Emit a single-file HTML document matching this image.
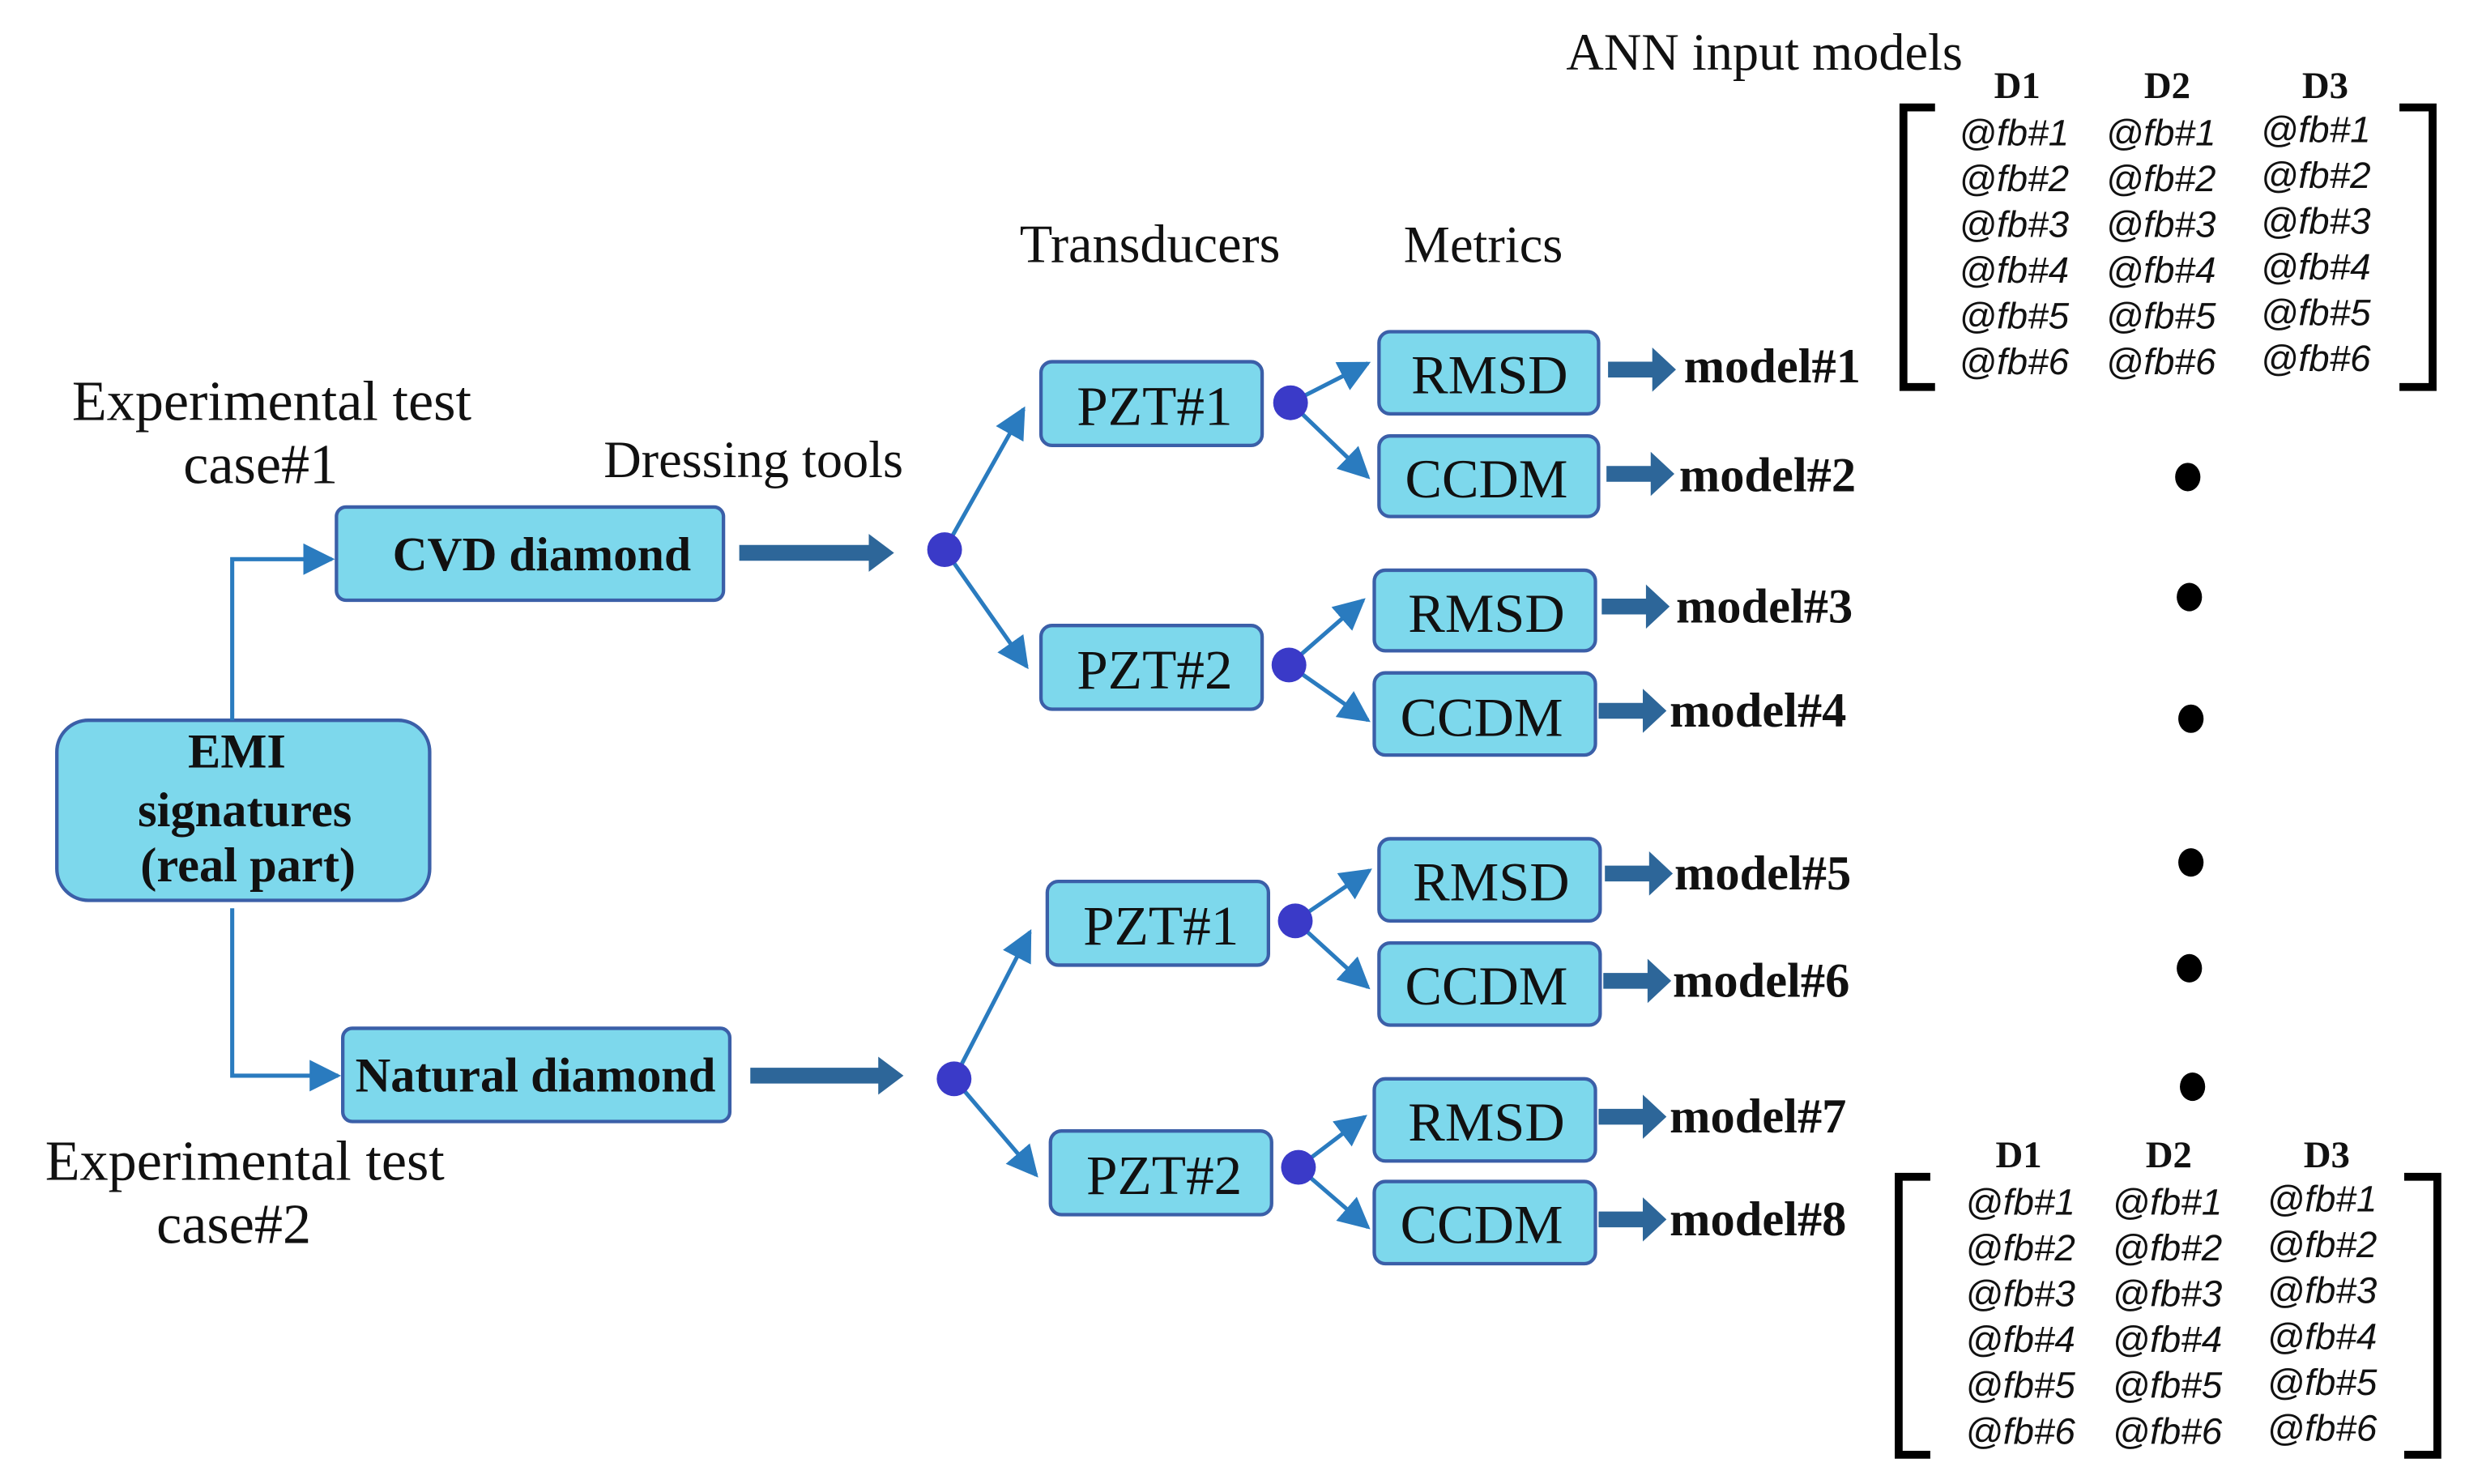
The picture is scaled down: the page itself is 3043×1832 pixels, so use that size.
<!DOCTYPE html>
<html><head><meta charset="utf-8"><style>
html,body{margin:0;padding:0;background:#fff;}
svg{display:block;}
.s{font-family:"Liberation Serif",serif;fill:#111;}
.b{font-family:"Liberation Serif",serif;font-weight:bold;fill:#111;}
.i{font-family:"Liberation Sans",sans-serif;font-style:italic;fill:#111;font-size:23.5px;}
.box{fill:#7dd8ec;stroke:#3b5fa8;stroke-width:2.2;}
.ln{stroke:#2a7bbf;stroke-width:2.6;fill:none;}
.dot{fill:#3a3ac8;}
.th{fill:#2d6699;}
</style></head><body>
<svg width="3043" height="1832" viewBox="0 0 1560.5 939.5" preserveAspectRatio="none" xmlns="http://www.w3.org/2000/svg">
<defs>
<marker id="m" viewBox="0 0 10 10" refX="9" refY="5" markerWidth="20" markerHeight="20" orient="auto" markerUnits="userSpaceOnUse"><path d="M0,0 L10,5 L0,10 z" fill="#2a7bbf"/></marker>
</defs>

<text class="s" x="1117" y="44" font-size="33" text-anchor="middle">ANN input models</text>
<text class="s" x="728" y="166" font-size="34" text-anchor="middle">Transducers</text>
<text class="s" x="939" y="166" font-size="33" text-anchor="middle">Metrics</text>
<text class="s" x="172" y="266" font-size="36" text-anchor="middle">Experimental test</text>
<text class="s" x="165" y="306" font-size="36" text-anchor="middle">case#1</text>
<text class="s" x="477" y="302" font-size="33" text-anchor="middle">Dressing tools</text>
<text class="s" x="155" y="747" font-size="36" text-anchor="middle">Experimental test</text>
<text class="s" x="148" y="787" font-size="36" text-anchor="middle">case#2</text>

<rect class="box" x="36" y="456" width="236" height="114" rx="20"/>
<text class="b" x="150" y="486" font-size="31" text-anchor="middle">EMI</text>
<text class="b" x="155" y="523" font-size="31" text-anchor="middle">signatures</text>
<text class="b" x="157" y="558" font-size="31" text-anchor="middle">(real part)</text>
<path class="ln" d="M147,456 V354 H210" marker-end="url(#m)"/>
<path class="ln" d="M147,575 V681 H214" marker-end="url(#m)"/>

<rect class="box" x="213" y="321" width="245" height="59" rx="6"/>
<text class="b" x="343" y="361" font-size="30.5" text-anchor="middle">CVD diamond</text>
<rect class="box" x="217" y="651" width="245" height="59" rx="6"/>
<text class="b" x="339" y="691" font-size="31" text-anchor="middle">Natural diamond</text>

<path class="th" d="M468,345 H550 V338 L566,350 L550,362 V355 H468 z"/>
<path class="th" d="M475,676 H556 V669 L572,681 L556,693 V686 H475 z"/>

<path class="ln" d="M598,348 L648,259" marker-end="url(#m)"/>
<path class="ln" d="M598,348 L650,422" marker-end="url(#m)"/>
<path class="ln" d="M604,683 L652,590" marker-end="url(#m)"/>
<path class="ln" d="M604,683 L656,744" marker-end="url(#m)"/>
<circle class="dot" cx="598" cy="348" r="11"/>
<circle class="dot" cx="604" cy="683" r="11"/>

<rect class="box" x="659" y="229" width="140" height="53" rx="7"/>
<text class="s" x="731" y="269" font-size="35.5" text-anchor="middle">PZT#1</text>
<rect class="box" x="659" y="396" width="140" height="53" rx="7"/>
<text class="s" x="731" y="436" font-size="35.5" text-anchor="middle">PZT#2</text>
<rect class="box" x="663" y="558" width="140" height="53" rx="7"/>
<text class="s" x="735" y="598" font-size="35.5" text-anchor="middle">PZT#1</text>
<rect class="box" x="665" y="716" width="140" height="53" rx="7"/>
<text class="s" x="737" y="756" font-size="35.5" text-anchor="middle">PZT#2</text>

<path class="ln" d="M817,255 L866,230" marker-end="url(#m)"/>
<path class="ln" d="M817,255 L866,302" marker-end="url(#m)"/>
<path class="ln" d="M816,421 L863,380" marker-end="url(#m)"/>
<path class="ln" d="M816,421 L866,456" marker-end="url(#m)"/>
<path class="ln" d="M820,583 L867,551" marker-end="url(#m)"/>
<path class="ln" d="M820,583 L866,625" marker-end="url(#m)"/>
<path class="ln" d="M822,739 L864,707" marker-end="url(#m)"/>
<path class="ln" d="M822,739 L866,777" marker-end="url(#m)"/>
<circle class="dot" cx="817" cy="255" r="11"/>
<circle class="dot" cx="816" cy="421" r="11"/>
<circle class="dot" cx="820" cy="583" r="11"/>
<circle class="dot" cx="822" cy="739" r="11"/>

<rect class="box" x="873" y="210" width="139" height="52" rx="7"/><text class="s" x="943" y="249" text-anchor="middle" font-size="35">RMSD</text>
<rect class="box" x="873" y="276" width="139" height="51" rx="7"/><text class="s" x="941" y="315" text-anchor="middle" font-size="35">CCDM</text>
<rect class="box" x="870" y="361" width="140" height="51" rx="7"/><text class="s" x="941" y="400" text-anchor="middle" font-size="35">RMSD</text>
<rect class="box" x="870" y="426" width="140" height="52" rx="7"/><text class="s" x="938" y="466" text-anchor="middle" font-size="35">CCDM</text>
<rect class="box" x="873" y="531" width="140" height="52" rx="7"/><text class="s" x="944" y="570" text-anchor="middle" font-size="35">RMSD</text>
<rect class="box" x="873" y="597" width="140" height="52" rx="7"/><text class="s" x="941" y="636" text-anchor="middle" font-size="35">CCDM</text>
<rect class="box" x="870" y="683" width="140" height="52" rx="7"/><text class="s" x="941" y="722" text-anchor="middle" font-size="35">RMSD</text>
<rect class="box" x="870" y="748" width="140" height="52" rx="7"/><text class="s" x="938" y="787" text-anchor="middle" font-size="35">CCDM</text>

<g class="th">
<path d="M1018,229 H1046 V220 L1061,234 L1046,248 V239 H1018 z"/>
<path d="M1017,295 H1045 V286 L1060,300 L1045,314 V305 H1017 z"/>
<path d="M1014,379 H1042 V370 L1057,384 L1042,398 V389 H1014 z"/>
<path d="M1012,445 H1040 V436 L1055,450 L1040,464 V455 H1012 z"/>
<path d="M1016,548 H1044 V539 L1059,553 L1044,567 V558 H1016 z"/>
<path d="M1015,616 H1043 V607 L1058,621 L1043,635 V626 H1015 z"/>
<path d="M1012,702 H1040 V693 L1055,707 L1040,721 V712 H1012 z"/>
<path d="M1012,767 H1040 V758 L1055,772 L1040,786 V777 H1012 z"/>
</g>
<text x="1066" y="242" class="b" font-size="31">model#1</text>
<text x="1063" y="311" class="b" font-size="31">model#2</text>
<text x="1061" y="394" class="b" font-size="31">model#3</text>
<text x="1057" y="460" class="b" font-size="31">model#4</text>
<text x="1060" y="563" class="b" font-size="31">model#5</text>
<text x="1059" y="631" class="b" font-size="31">model#6</text>
<text x="1057" y="717" class="b" font-size="31">model#7</text>
<text x="1057" y="782" class="b" font-size="31">model#8</text>

<g fill="#000">
<ellipse cx="1385" cy="302" rx="8" ry="9"/>
<ellipse cx="1386" cy="378" rx="8" ry="9"/>
<ellipse cx="1387" cy="455" rx="8" ry="9"/>
<ellipse cx="1387" cy="546" rx="8" ry="9"/>
<ellipse cx="1386" cy="613" rx="8" ry="9"/>
<ellipse cx="1388" cy="688" rx="8" ry="9"/>
</g>

<path d="M1225,68 H1205 V245 H1225" fill="none" stroke="#000" stroke-width="5"/>
<path d="M1519,68 H1540 V245 H1519" fill="none" stroke="#000" stroke-width="5"/>
<text x="1277" y="62" class="b" font-size="24" text-anchor="middle">D1</text>
<text x="1372" y="62" class="b" font-size="24" text-anchor="middle">D2</text>
<text x="1472" y="62" class="b" font-size="24" text-anchor="middle">D3</text>
<g class="i" text-anchor="middle">
<text x="1275" y="92">@fb#1</text><text x="1368" y="92">@fb#1</text><text x="1466" y="90">@fb#1</text>
<text x="1275" y="121">@fb#2</text><text x="1368" y="121">@fb#2</text><text x="1466" y="119">@fb#2</text>
<text x="1275" y="150">@fb#3</text><text x="1368" y="150">@fb#3</text><text x="1466" y="148">@fb#3</text>
<text x="1275" y="179">@fb#4</text><text x="1368" y="179">@fb#4</text><text x="1466" y="177">@fb#4</text>
<text x="1275" y="208">@fb#5</text><text x="1368" y="208">@fb#5</text><text x="1466" y="206">@fb#5</text>
<text x="1275" y="237">@fb#6</text><text x="1368" y="237">@fb#6</text><text x="1466" y="235">@fb#6</text>
</g>

<path d="M1222,745 H1202 V921 H1222" fill="none" stroke="#000" stroke-width="5"/>
<path d="M1522,745 H1543 V921 H1522" fill="none" stroke="#000" stroke-width="5"/>
<text x="1278" y="739" class="b" font-size="24" text-anchor="middle">D1</text>
<text x="1373" y="739" class="b" font-size="24" text-anchor="middle">D2</text>
<text x="1473" y="739" class="b" font-size="24" text-anchor="middle">D3</text>
<g class="i" text-anchor="middle">
<text x="1279" y="769">@fb#1</text><text x="1372" y="769">@fb#1</text><text x="1470" y="767">@fb#1</text>
<text x="1279" y="798">@fb#2</text><text x="1372" y="798">@fb#2</text><text x="1470" y="796">@fb#2</text>
<text x="1279" y="827">@fb#3</text><text x="1372" y="827">@fb#3</text><text x="1470" y="825">@fb#3</text>
<text x="1279" y="856">@fb#4</text><text x="1372" y="856">@fb#4</text><text x="1470" y="854">@fb#4</text>
<text x="1279" y="885">@fb#5</text><text x="1372" y="885">@fb#5</text><text x="1470" y="883">@fb#5</text>
<text x="1279" y="914">@fb#6</text><text x="1372" y="914">@fb#6</text><text x="1470" y="912">@fb#6</text>
</g>
</svg>
</body></html>
